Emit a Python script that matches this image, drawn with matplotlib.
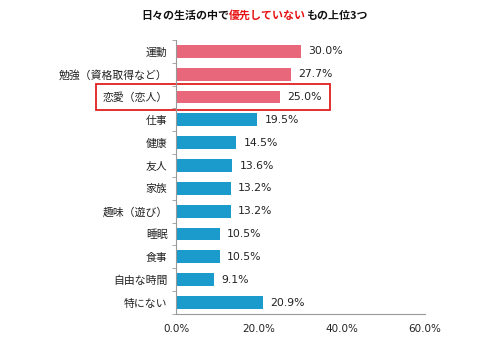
import matplotlib
matplotlib.use("Agg")
import matplotlib.pyplot as plt
from matplotlib.patches import Rectangle
import numpy as np

plt.rcParams['font.family'] = ['Noto Sans CJK JP', 'DejaVu Sans']

categories = ["運動", "勉強（資格取得など）", "恋愛（恋人）", "仕事", "健康", "友人",
              "家族", "趣味（遊び）", "睡眠", "食事", "自由な時間", "特にない"]
values = [30.0, 27.7, 25.0, 19.5, 14.5, 13.6, 13.2, 13.2, 10.5, 10.5, 9.1, 20.9]
highlight_count = 3
xticks = [0, 20, 40, 60]

pink = "#E8677A"
blue = "#1A9BCB"

fig = plt.figure(figsize=(5, 3.5), dpi=100)
ax = fig.add_axes([0.352, 0.103, 0.498, 0.783])

y = np.arange(len(categories))
colors = [pink if i < highlight_count else blue for i in range(len(categories))]
ax.barh(y, values, height=0.56, color=colors)
ax.set_ylim(len(categories) - 0.5, -0.5)
ax.set_xlim(0, 60)

ax.set_yticks(y)
ax.set_yticklabels(categories, fontsize=7.8, color="#222222")
ax.set_yticks(np.arange(len(categories) + 1) - 0.5, minor=True)
ax.tick_params(axis='y', which='major', length=0, pad=6)
ax.tick_params(axis='y', which='minor', length=3, color="#999999", direction='out')

ax.set_xticks(xticks)
ax.set_xticklabels([f"{v:.1f}%" for v in xticks], fontsize=7.5, color="#222222",
                   family='DejaVu Sans')
ax.tick_params(axis='x', length=0, pad=7)

for s in ['top', 'right']:
    ax.spines[s].set_visible(False)
for s in ['left', 'bottom']:
    ax.spines[s].set_color("#999999")
    ax.spines[s].set_linewidth(0.8)

for yi, v in zip(y, values):
    ax.text(v + 1.8, yi, f"{v:.1f}%", va='center', ha='left', fontsize=7.8,
            color="#222222", family='DejaVu Sans')

# highlight box around third row
rect = Rectangle((-19.3, 2 - 0.56), 56.4, 1.12, fill=False, edgecolor="#E02020",
                 linewidth=1.3, clip_on=False, transform=ax.transData)
ax.add_patch(rect)

# Title with colored part
parts = [("日々の生活の中で", "#111111"), ("優先していない", "#E81010"), ("もの上位3つ", "#111111")]
t = fig.text(0.282, 1 - 16 / 350, parts[0][0], fontsize=7.9, fontweight='bold',
             color=parts[0][1], va='center', ha='left')
for txt, col in parts[1:]:
    t = ax.annotate(txt, xy=(1, 0), xycoords=t, va='bottom', ha='left',
                    fontsize=7.9, fontweight='bold', color=col,
                    annotation_clip=False)

fig.savefig("out.png", dpi=100)
